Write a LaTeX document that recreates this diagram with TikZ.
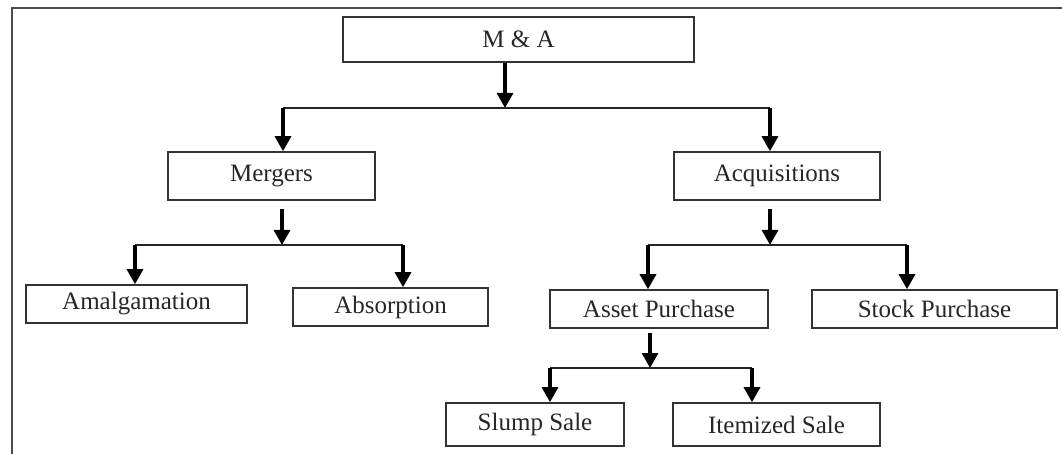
\documentclass[tikz,border=0pt]{standalone}
\usepackage{fontspec}
\setmainfont{Liberation Serif}
\usetikzlibrary{arrows.meta}
\tikzset{
  box/.style={draw=black!80, line width=1.6pt, inner sep=0pt, text=black!85,
    font=\fontsize{25}{27}\selectfont},
  arr/.style={draw=black, line width=3.2pt, -{Triangle[width=16pt,length=15pt]}},
  bar/.style={draw=black!85, line width=2pt}
}
\begin{document}
\begin{tikzpicture}[x=1pt,y=-1pt]
\useasboundingbox (0,0) rectangle (1062,454);
% outer frame
\draw[line width=1.8pt, black!70] (12,454) -- (12,8) -- (1062,8);
% boxes
\node[box, minimum width=351pt, minimum height=45pt] (ma) at (518.5,39.5) {M \& A};
\node[box, minimum width=207pt, minimum height=48pt] (mer) at (271.5,176) {Mergers};
\node[box, minimum width=206pt, minimum height=48pt] (acq) at (777,176) {Acquisitions};
\node[box, minimum width=221pt, minimum height=38pt] (amal) at (136.5,304) {Amalgamation};
\node[box, minimum width=195pt, minimum height=38pt] (abs) at (390.5,307) {Absorption};
\node[box, minimum width=218pt, minimum height=38pt] (asset) at (659,309) {Asset Purchase};
\node[box, minimum width=245pt, minimum height=38pt] (stock) at (934.5,309) {Stock Purchase};
\node[box, minimum width=178pt, minimum height=43pt] (slump) at (535,424.5) {Slump Sale};
\node[box, minimum width=207pt, minimum height=43pt] (item) at (776.5,424.5) {Itemized Sale};
% junctions
\coordinate (j0) at (505,108);
\coordinate (j0l) at (283,108);
\coordinate (j0r) at (770,108);
\coordinate (j1) at (282,245);
\coordinate (j1l) at (135,245);
\coordinate (j1r) at (403,245);
\coordinate (j2) at (770,245);
\coordinate (j2l) at (648,245);
\coordinate (j2r) at (907,245);
\coordinate (j3) at (650,368);
\coordinate (j3l) at (550,368);
\coordinate (j3r) at (752,368);
% M & A
\draw[arr] (j0 |- ma.south) -- (j0);
\draw[bar] (j0l) -- (j0r);
\draw[arr] (j0l) -- (j0l |- mer.north);
\draw[arr] (j0r) -- (j0r |- acq.north);
% Mergers
\draw[arr] ([yshift=-8pt]j1 |- mer.south) -- (j1);
\draw[bar] (j1l) -- (j1r);
\draw[arr] (j1l) -- (j1l |- amal.north);
\draw[arr] (j1r) -- (j1r |- abs.north);
% Acquisitions
\draw[arr] ([yshift=-8pt]j2 |- acq.south) -- (j2);
\draw[bar] (j2l) -- (j2r);
\draw[arr] (j2l) -- (j2l |- asset.north);
\draw[arr] (j2r) -- (j2r |- stock.north);
% Asset Purchase
\draw[arr] ([yshift=-4pt]j3 |- asset.south) -- (j3);
\draw[bar] (j3l) -- (j3r);
\draw[arr] (j3l) -- (j3l |- slump.north);
\draw[arr] (j3r) -- (j3r |- item.north);
\end{tikzpicture}
\end{document}
